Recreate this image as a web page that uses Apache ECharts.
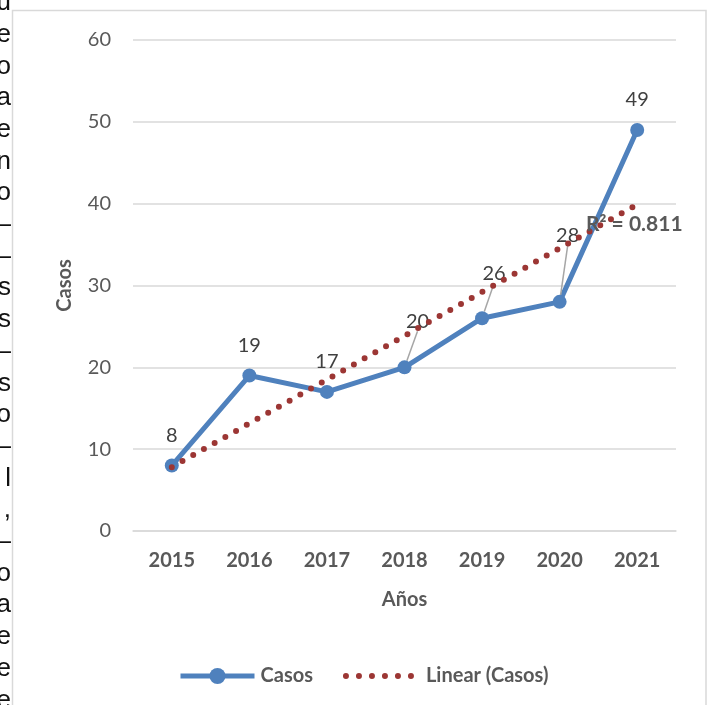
<!DOCTYPE html>
<html>
<head>
<meta charset="utf-8">
<script src="https://cdn.jsdelivr.net/npm/echarts@6/dist/echarts.min.js"></script>
<style>
  html, body { margin: 0; padding: 0; background: #fff; }
  #main { width: 710px; height: 705px; }
</style>
</head>
<body>
<div id="main"></div>
<script>
// datos
var years = ['2015', '2016', '2017', '2018', '2019', '2020', '2021'];
var casos = [8, 19, 17, 20, 26, 28, 49];
var trendEnds = [7.8, 39.9]; // Linear (Casos), 2015 y 2021
var r2Label = 'R\u00b2 = 0.811';
var legendNames = ['Casos', 'Linear (Casos)'];
// letras del texto del documento cortado a la izquierda
var edgeLetters = ['u', 'e', 'o', 'a', 'e', 'n', 'o', '\u2013', '\u2013', 's', 's', '\u2013', 's', 'o', '\u2013', 'l', ',', '\u2013', 'o', 'a', 'e', 'e', 'e'];

var chart = echarts.init(document.getElementById('main'), null, { renderer: 'canvas' });

var blue = '#4f81bd';
var red = '#9c3634';
var grey = '#595959';
var font = 'Lato, "Open Sans", sans-serif';

// etiquetas desplazadas con linea guia (2018, 2019, 2020)
var labelShift = { 3: [13, -16], 4: [12, -15], 5: [8, -36] };

var casosData = casos.map(function (v, i) {
    var item = { value: v };
    if (labelShift[i]) item.labelLine = { show: true };
    return item;
});

var edgeGraphics = edgeLetters.map(function (ch, i) {
    return {
        type: 'text',
        x: 11,
        y: 3 + i * 31.7,
        silent: true,
        style: {
            text: ch,
            align: 'right',
            verticalAlign: 'middle',
            font: '26px "Liberation Sans", Arial, sans-serif',
            fill: '#111'
        }
    };
});

var trendDots = { color: red, width: 6, type: [0, 12.3], cap: 'round' };

var option = {
    backgroundColor: '#fff',
    animation: false,
    grid: { left: 133, right: 34, top: 40, bottom: 174 },
    xAxis: {
        type: 'category',
        data: years,
        boundaryGap: true,
        axisLine: { show: true, lineStyle: { color: '#d9d9d9', width: 1.5 } },
        axisTick: { show: false },
        axisLabel: { color: grey, fontFamily: font, fontWeight: 'bold', fontSize: 20, margin: 20 },
        name: 'Años',
        nameLocation: 'middle',
        nameGap: 59,
        nameTextStyle: { color: grey, fontFamily: font, fontWeight: 'bold', fontSize: 20 }
    },
    yAxis: {
        type: 'value',
        min: 0,
        max: 60,
        interval: 10,
        axisLine: { show: false },
        axisTick: { show: false },
        axisLabel: { color: grey, fontFamily: font, fontSize: 20, margin: 22 },
        splitLine: { lineStyle: { color: '#d9d9d9', width: 1.5 } },
        name: 'Casos',
        nameLocation: 'middle',
        nameRotate: 90,
        nameGap: 58,
        nameTextStyle: { color: grey, fontFamily: font, fontWeight: 'bold', fontSize: 20 }
    },
    legend: {
        left: 173,
        top: 661,
        itemWidth: 74,
        itemHeight: 20,
        itemGap: 30,
        data: [
            { name: legendNames[0], lineStyle: { width: 5 } },
            {
                name: legendNames[1],
                itemStyle: { opacity: 0 },
                lineStyle: { width: 6, type: [0, 13], cap: 'round' }
            }
        ],
        textStyle: { color: grey, fontFamily: font, fontWeight: 'bold', fontSize: 20, padding: [0, 0, 0, 1] }
    },
    series: [
        {
            name: legendNames[0],
            type: 'line',
            data: casosData,
            symbol: 'circle',
            symbolSize: 14,
            z: 3,
            lineStyle: { color: blue, width: 5 },
            itemStyle: { color: blue },
            label: {
                show: true,
                position: 'top',
                distance: 13,
                color: '#404040',
                fontFamily: font,
                fontSize: 20
            },
            labelLine: {
                show: false,
                lineStyle: { color: '#a6a6a6', width: 1.5 }
            },
            labelLayout: function (params) {
                var s = labelShift[params.dataIndex];
                if (!s) return {};
                return { dx: s[0], dy: s[1] };
            }
        },
        {
            name: legendNames[1],
            type: 'line',
            data: [[0, trendEnds[0]], [years.length - 1, trendEnds[1]]],
            symbol: 'none',
            z: 4,
            itemStyle: { color: red },
            lineStyle: trendDots
        }
    ],
    graphic: [
        {
            type: 'rect',
            silent: true,
            shape: { x: 12.5, y: 10.5, width: 693.5, height: 720 },
            style: { fill: 'none', stroke: '#d9d9d9', lineWidth: 1.5 }
        },
        {
            type: 'text',
            x: 586,
            y: 224,
            z: 10,
            silent: true,
            style: {
                text: r2Label,
                verticalAlign: 'middle',
                font: 'bold 21px ' + font,
                fill: grey
            }
        }
    ].concat(edgeGraphics)
};

chart.setOption(option);
</script>
</body>
</html>
